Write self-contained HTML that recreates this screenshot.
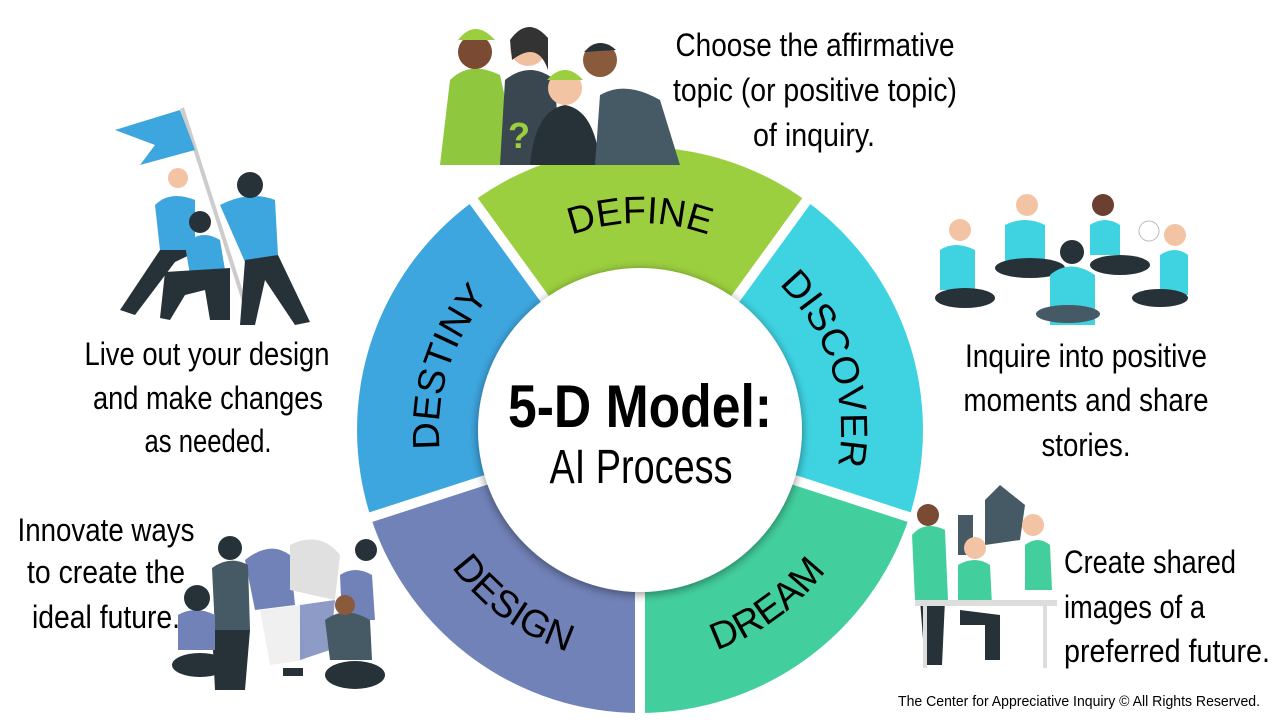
<!DOCTYPE html>
<html><head><meta charset="utf-8"><style>
html,body{margin:0;padding:0;background:#fff;width:1280px;height:720px;overflow:hidden}
svg{display:block}
.t{font-family:"Liberation Sans",sans-serif;font-size:32px;fill:#000}
.l{font-family:"Liberation Sans",sans-serif;font-size:38px;fill:#000}
</style></head><body>
<svg width="1280" height="720" viewBox="0 0 1280 720" xmlns="http://www.w3.org/2000/svg">
<defs>
<filter id="sh" x="-20%" y="-20%" width="140%" height="140%"><feGaussianBlur in="SourceAlpha" stdDeviation="5"/><feOffset dx="0" dy="2"/><feComponentTransfer><feFuncA type="linear" slope="0.45"/></feComponentTransfer><feMerge><feMergeNode/><feMergeNode in="SourceGraphic"/></feMerge></filter>
<path id="pDefine" d="M521.9,267.4 A201,201 0 0 1 758.1,267.4" transform="translate(0,-6)"/>
<path id="pDiscover" d="M758.1,267.4 A201,201 0 0 1 831.2,492.1"/>
<path id="pDestiny" d="M448.8,492.1 A201,201 0 0 1 521.9,267.4"/>
<path id="pDream" d="M640,663 A233,233 0 0 0 861.6,502"/>
<path id="pDesign" d="M418.4,502 A233,233 0 0 0 640,663"/>
</defs>

<path d="M640,430 L473.7,201 A283,283 0 0 1 806.3,201 Z" fill="#9ccf3f"/>
<path d="M640,430 L806.3,201 A283,283 0 0 1 909.1,517.5 Z" fill="#3fd3e2"/>
<path d="M640,430 L909.1,517.5 A283,283 0 0 1 640,713 Z" fill="#43cf9d"/>
<path d="M640,430 L640,713 A283,283 0 0 1 370.9,517.5 Z" fill="#7182b8"/>
<path d="M640,430 L370.9,517.5 A283,283 0 0 1 473.7,201 Z" fill="#3ea6df"/>
<g stroke="#fff" stroke-width="10">
<line x1="640" y1="430" x2="470" y2="196"/>
<line x1="640" y1="430" x2="810" y2="196"/>
<line x1="640" y1="430" x2="915" y2="519"/>
<line x1="640" y1="430" x2="640" y2="720"/>
<line x1="640" y1="430" x2="365" y2="519"/>
</g>
<circle cx="640" cy="430" r="162" fill="#fff" filter="url(#sh)"/>

<text class="l"><textPath href="#pDefine" startOffset="50%" text-anchor="middle">DEFINE</textPath></text>
<text class="l"><textPath href="#pDiscover" startOffset="50%" text-anchor="middle">DISCOVER</textPath></text>
<text class="l"><textPath href="#pDestiny" startOffset="50%" text-anchor="middle">DESTINY</textPath></text>
<text class="l"><textPath href="#pDream" startOffset="50%" text-anchor="middle">DREAM</textPath></text>
<text class="l"><textPath href="#pDesign" startOffset="50%" text-anchor="middle">DESIGN</textPath></text>

<text x="640" y="427" text-anchor="middle" font-family="Liberation Sans,sans-serif" font-weight="bold" font-size="60" textLength="264" lengthAdjust="spacingAndGlyphs">5-D Model:</text>
<text x="641" y="483" text-anchor="middle" font-family="Liberation Sans,sans-serif" font-size="48" textLength="183" lengthAdjust="spacingAndGlyphs">AI Process</text>

<g class="t" text-anchor="middle">
<text x="815" y="56" textLength="279" lengthAdjust="spacingAndGlyphs">Choose the affirmative</text>
<text x="815" y="101" textLength="284" lengthAdjust="spacingAndGlyphs">topic (or positive topic)</text>
<text x="814" y="146" textLength="122" lengthAdjust="spacingAndGlyphs">of inquiry.</text>
<text x="207" y="365" textLength="245" lengthAdjust="spacingAndGlyphs">Live out your design</text>
<text x="208" y="409" textLength="230" lengthAdjust="spacingAndGlyphs">and make changes</text>
<text x="208" y="452" textLength="127" lengthAdjust="spacingAndGlyphs">as needed.</text>
<text x="106" y="541" textLength="177" lengthAdjust="spacingAndGlyphs">Innovate ways</text>
<text x="106" y="583" textLength="158" lengthAdjust="spacingAndGlyphs">to create the</text>
<text x="106" y="628" textLength="148" lengthAdjust="spacingAndGlyphs">ideal future.</text>
<text x="1086" y="367" textLength="242" lengthAdjust="spacingAndGlyphs">Inquire into positive</text>
<text x="1086" y="411" textLength="245" lengthAdjust="spacingAndGlyphs">moments and share</text>
<text x="1086" y="456" textLength="89" lengthAdjust="spacingAndGlyphs">stories.</text>
</g>
<g class="t">
<text x="1064" y="573" textLength="172" lengthAdjust="spacingAndGlyphs">Create shared</text>
<text x="1064" y="618" textLength="141" lengthAdjust="spacingAndGlyphs">images of a</text>
<text x="1064" y="662" textLength="206" lengthAdjust="spacingAndGlyphs">preferred future.</text>
</g>
<text x="898" y="706" font-family="Liberation Sans,sans-serif" font-size="15" textLength="362" lengthAdjust="spacingAndGlyphs">The Center for Appreciative Inquiry © All Rights Reserved.</text>

<g>
<path d="M440,165 L450,80 Q470,60 500,75 L520,165 Z" fill="#8fc73e"/>
<circle cx="475" cy="52" r="17" fill="#7a4a32"/><path d="M458,40 Q475,18 495,40 Z" fill="#9ccf3f"/>
<path d="M500,165 L505,80 Q530,60 555,80 L560,165 Z" fill="#3b4750"/>
<circle cx="528" cy="48" r="18" fill="#f0c0a0"/><path d="M510,40 Q528,15 548,38 L548,70 Q538,40 512,60Z" fill="#333"/>
<text x="508" y="148" font-family="Liberation Sans,sans-serif" font-weight="bold" font-size="36" fill="#9ccf3f">?</text>
<path d="M530,165 Q535,110 565,105 Q595,110 600,165 Z" fill="#263238"/>
<circle cx="565" cy="88" r="17" fill="#f2c4a4"/><path d="M547,80 Q565,60 583,80 Z" fill="#9ccf3f"/>
<path d="M595,165 L600,95 Q625,80 660,100 L680,165 Z" fill="#455a64"/>
<circle cx="600" cy="60" r="17" fill="#8a5a3c"/><path d="M584,52 Q600,35 616,50 Z" fill="#263238"/>
</g>

<g>
<line x1="182" y1="108" x2="250" y2="320" stroke="#ccc" stroke-width="4"/>
<path d="M115,130 L180,110 L195,150 L140,165 L155,145 Z" fill="#3ea6df"/>
<path d="M155,205 Q170,190 195,200 L195,250 L160,250 Z" fill="#3ea6df"/>
<circle cx="178" cy="178" r="10" fill="#f2c4a4"/>
<path d="M160,250 L120,310 L135,315 L175,262 L200,250 Z" fill="#263238"/>
<path d="M220,205 Q250,190 275,200 L278,255 L245,262 Z" fill="#3ea6df"/>
<circle cx="250" cy="185" r="13" fill="#263238"/>
<path d="M245,260 L278,255 L310,322 L295,325 L265,280 L255,325 L240,325 Z" fill="#263238"/>
<path d="M185,245 Q200,228 220,240 L225,270 L190,275 Z" fill="#3ea6df"/>
<circle cx="200" cy="222" r="11" fill="#263238"/>
<path d="M165,272 L230,268 L230,320 L210,320 L205,290 L185,295 L170,320 L160,318 Z" fill="#263238"/>
</g>

<g>
<path d="M940,250 Q955,240 975,250 L975,290 L940,290 Z" fill="#3fd3e2"/>
<circle cx="960" cy="230" r="11" fill="#f2c4a4"/>
<ellipse cx="965" cy="298" rx="30" ry="10" fill="#263238"/>
<path d="M1005,225 Q1025,215 1045,225 L1045,265 L1005,265 Z" fill="#3fd3e2"/>
<circle cx="1027" cy="205" r="11" fill="#f2c4a4"/>
<ellipse cx="1030" cy="268" rx="35" ry="10" fill="#263238"/>
<path d="M1090,225 Q1105,215 1120,225 L1120,255 L1090,255 Z" fill="#3fd3e2"/>
<circle cx="1103" cy="205" r="11" fill="#6b4030"/>
<ellipse cx="1120" cy="265" rx="30" ry="10" fill="#263238"/>
<path d="M1050,275 Q1070,258 1095,275 L1095,325 L1050,325 Z" fill="#3fd3e2"/>
<circle cx="1072" cy="252" r="12" fill="#263238"/>
<ellipse cx="1068" cy="314" rx="32" ry="9" fill="#455a64"/>
<path d="M1160,255 Q1175,245 1188,255 L1188,295 L1160,295 Z" fill="#3fd3e2"/>
<circle cx="1175" cy="235" r="11" fill="#f2c4a4"/>
<ellipse cx="1160" cy="298" rx="28" ry="9" fill="#263238"/>
<circle cx="1149" cy="231" r="10" fill="#fff" stroke="#bbb"/>
</g>

<g>
<path d="M985,500 L1000,485 L1025,505 L1020,540 L985,545 Z" fill="#455a64"/>
<rect x="958" y="515" width="15" height="40" fill="#455a64"/>
<path d="M912,535 Q925,520 945,530 L948,600 L915,600 Z" fill="#43cf9d"/>
<circle cx="928" cy="515" r="11" fill="#7a4a32"/>
<path d="M920,600 L945,600 L942,665 L925,665 Z" fill="#263238"/>
<path d="M1025,545 Q1038,535 1050,545 L1052,590 L1025,590 Z" fill="#43cf9d"/>
<circle cx="1033" cy="525" r="11" fill="#f2c4a4"/>
<path d="M958,565 Q975,555 990,565 L992,605 L958,605 Z" fill="#43cf9d"/>
<circle cx="975" cy="548" r="11" fill="#f2c4a4"/>
<rect x="915" y="600" width="142" height="6" fill="#ddd"/>
<line x1="925" y1="606" x2="925" y2="668" stroke="#ddd" stroke-width="4"/>
<line x1="1045" y1="606" x2="1045" y2="668" stroke="#ddd" stroke-width="4"/>
<path d="M960,610 L1000,615 L1000,660 L985,660 L985,625 L960,625 Z" fill="#263238"/>
</g>

<g>
<path d="M245,560 Q270,540 290,555 L295,605 L255,610 Z" fill="#7182b8"/>
<path d="M290,545 Q320,530 340,555 L335,600 L290,590 Z" fill="#e0e0e0"/>
<path d="M260,610 L300,605 L305,660 L270,665 Z" fill="#f0f0f0"/>
<path d="M300,605 L335,600 L330,650 L300,660 Z" fill="#7182b8" opacity="0.8"/>
<rect x="283" y="668" width="20" height="8" fill="#263238"/>
<path d="M212,568 Q230,555 248,565 L250,630 L215,630 Z" fill="#455a64"/>
<circle cx="230" cy="548" r="12" fill="#263238"/>
<path d="M212,630 L250,630 L245,690 L215,690 Z" fill="#263238"/>
<path d="M178,615 Q195,605 215,615 L215,650 L178,650 Z" fill="#7182b8"/>
<circle cx="197" cy="598" r="13" fill="#263238"/>
<ellipse cx="200" cy="665" rx="28" ry="12" fill="#263238"/>
<path d="M340,575 Q355,565 372,575 L375,620 L342,620 Z" fill="#7182b8"/>
<circle cx="366" cy="550" r="11" fill="#263238"/>
<path d="M325,620 Q345,605 370,620 L372,660 L330,660 Z" fill="#455a64"/>
<circle cx="345" cy="605" r="10" fill="#8a5a3c"/>
<ellipse cx="355" cy="675" rx="30" ry="14" fill="#263238"/>
</g>
</svg>
</body></html>
